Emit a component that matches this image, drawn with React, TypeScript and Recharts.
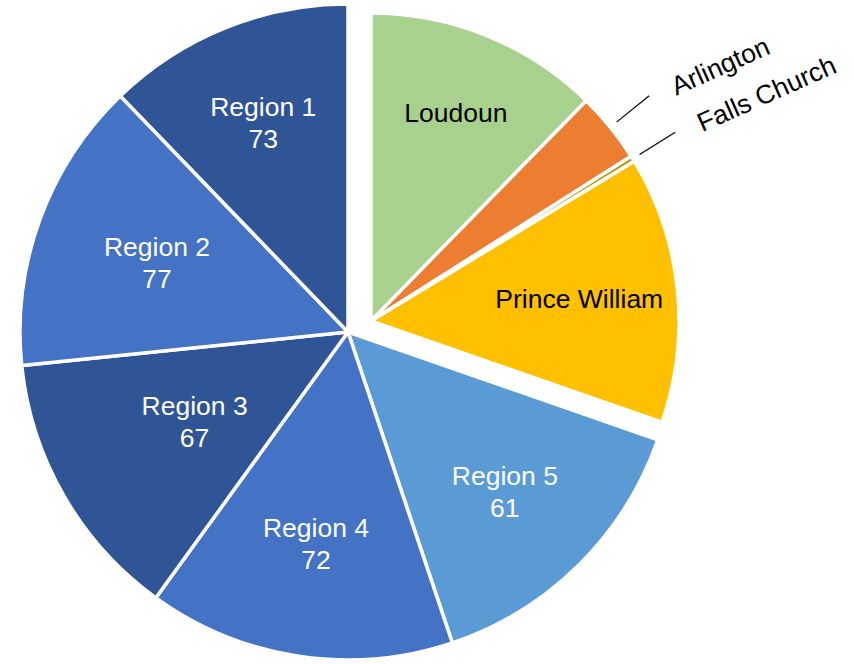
import { PieChart, Pie, Cell } from "recharts";

// ─── Data
// counties pulled out of the pie (clockwise from 12 o'clock)
const countyNames = ["Loudoun", "Arlington", "Falls Church", "Prince William"];
const countyShares = [12.3, 3.7, 0.3, 14.0];

// regions, clockwise from the lower right
const regionNames = ["Region 5", "Region 4", "Region 3", "Region 2", "Region 1"];
const regionShares = [14.5, 15.1, 13.4, 14.4, 12.2];
const regionCounts = [61, 72, 67, 77, 73];

// ─── Styles
const countyColors = ["#A9D18E", "#ED7D31", "#BF9000", "#FFC000"];
const regionColors = ["#5B9BD5", "#4472C4", "#2F5597", "#4472C4", "#2F5597"];
const countyLabelR = [0.73, 0, 0, 0.68];
const regionLabelR = [0.68, 0.65, 0.54, 0.62, 0.69];

const FONT = '"Liberation Sans", Arial, Helvetica, sans-serif';
const FONT_SIZE = 26.5;
const RAD = Math.PI / 180;

const MAIN = { cx: 348, cy: 332, r: 328 };
const SPLIT = { cx: 371, cy: 321, r: 308 };

const sum = (xs: number[]) => xs.reduce((a, b) => a + b, 0);
const total = sum(countyShares) + sum(regionShares);
const splitAngle = 90 - (360 * sum(countyShares)) / total;

const countyData = countyNames.map((name, i) => ({ name, value: countyShares[i] }));
const regionData = regionNames.map((name, i) => ({ name, value: regionShares[i] }));

const polar = (cx: number, cy: number, r: number, angle: number) => ({
  x: cx + r * Math.cos(-angle * RAD),
  y: cy + r * Math.sin(-angle * RAD),
});

const RegionLabel = (props: any) => {
  const { midAngle, outerRadius, index } = props;
  const cx = props.cx ?? MAIN.cx;
  const cy = props.cy ?? MAIN.cy;
  const { x, y } = polar(cx, cy, outerRadius * regionLabelR[index], midAngle);
  return (
    <text x={x} y={y} fill="#fff" fontSize={FONT_SIZE} fontFamily={FONT} textAnchor="middle">
      <tspan x={x} dy={-6}>
        {regionNames[index]}
      </tspan>
      <tspan x={x} dy={32}>
        {regionCounts[index]}
      </tspan>
    </text>
  );
};

const CountyLabel = (props: any) => {
  const { midAngle, outerRadius, index } = props;
  const cx = props.cx ?? SPLIT.cx;
  const cy = props.cy ?? SPLIT.cy;
  const factor = countyLabelR[index];
  if (factor > 0) {
    const { x, y } = polar(cx, cy, outerRadius * factor, midAngle);
    return (
      <text x={x} y={y + 9.5} fill="#000" fontSize={FONT_SIZE} fontFamily={FONT} textAnchor="middle">
        {countyNames[index]}
      </text>
    );
  }
  // thin slices: leader line + tilted text outside the pie
  const a = polar(cx, cy, outerRadius + 8, midAngle);
  const b = polar(cx, cy, outerRadius + 50, midAngle);
  const tx = b.x + 27;
  const ty = b.y;
  return (
    <g>
      <line x1={a.x} y1={a.y} x2={b.x} y2={b.y} stroke="#000" strokeWidth={1.2} />
      <text
        x={tx}
        y={ty}
        fill="#000"
        fontSize={FONT_SIZE}
        fontFamily={FONT}
        textAnchor="start"
        transform={`rotate(-24 ${tx} ${ty})`}
      >
        {countyNames[index]}
      </text>
    </g>
  );
};

export default function App() {
  return (
    <div style={{ position: "absolute", left: 0, top: 0, width: 854, height: 664, background: "#fff" }}>
      <PieChart width={854} height={664} margin={{ top: 0, right: 0, bottom: 0, left: 0 }}>
        <Pie
          data={regionData}
          dataKey="value"
          nameKey="name"
          cx={MAIN.cx}
          cy={MAIN.cy}
          outerRadius={MAIN.r}
          startAngle={splitAngle}
          endAngle={-270}
          stroke="#fff"
          strokeWidth={3.5}
          label={RegionLabel}
          labelLine={false}
          isAnimationActive={false}
        >
          {regionData.map((d, i) => (
            <Cell key={d.name} fill={regionColors[i]} />
          ))}
        </Pie>
        <Pie
          data={countyData}
          dataKey="value"
          nameKey="name"
          cx={SPLIT.cx}
          cy={SPLIT.cy}
          outerRadius={SPLIT.r}
          startAngle={90}
          endAngle={splitAngle}
          stroke="#fff"
          strokeWidth={3.5}
          label={CountyLabel}
          labelLine={false}
          isAnimationActive={false}
        >
          {countyData.map((d, i) => (
            <Cell key={d.name} fill={countyColors[i]} />
          ))}
        </Pie>
      </PieChart>
    </div>
  );
}
